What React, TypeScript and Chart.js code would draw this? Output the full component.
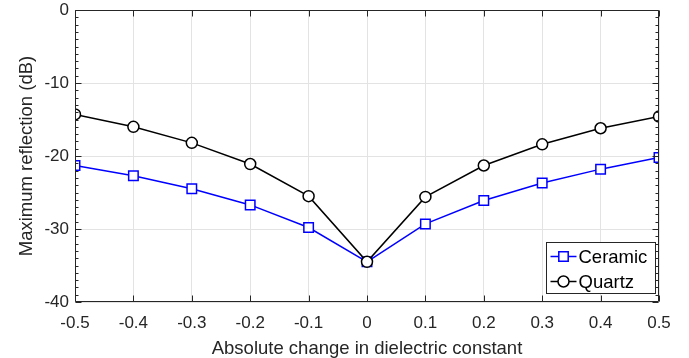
import React, { useEffect, useRef } from "react";
import { Chart, registerables } from "chart.js";

Chart.register(...registerables);

const xValues = [-0.5, -0.4, -0.3, -0.2, -0.1, 0, 0.1, 0.2, 0.3, 0.4, 0.5];
const ceramic = [-21.3, -22.7, -24.5, -26.7, -29.8, -34.5, -29.3, -26.1, -23.7, -21.8, -20.2];
const quartz = [-14.3, -16.0, -18.2, -21.1, -25.5, -34.5, -25.6, -21.3, -18.4, -16.2, -14.6];
const xTickLabels = ["-0.5", "-0.4", "-0.3", "-0.2", "-0.1", "0", "0.1", "0.2", "0.3", "0.4", "0.5"];
const yTickValues = [-40, -30, -20, -10, 0];
const yTickLabels = ["-40", "-30", "-20", "-10", "0"];
const seriesNames = ["Ceramic", "Quartz"];
const xTitle = "Absolute change in dielectric constant";
const yTitle = "Maximum reflection (dB)";

const FONT = "'Liberation Sans', Arial, Helvetica, sans-serif";
const AXIS = "#262626";
const GRID = "#e3e3e3";
const BLUE = "#0000ff";
const BLACK = "#000000";

const framePlugin = {
  id: "matlabFrame",
  afterDraw(chart: any) {
    const { ctx, chartArea } = chart;
    const xs = chart.scales.x;
    const ys = chart.scales.y;
    const L = Math.round(chartArea.left) + 0.5;
    const R = Math.round(chartArea.right) - 0.5;
    const T = Math.round(chartArea.top) + 0.5;
    const B = Math.round(chartArea.bottom) - 0.5;
    ctx.save();
    ctx.strokeStyle = AXIS;
    ctx.lineWidth = 1;
    ctx.beginPath();
    ctx.rect(L, T, R - L, B - T);
    ctx.stroke();
    // major ticks inward
    ctx.beginPath();
    xValues.forEach((v) => {
      const px = Math.round(xs.getPixelForValue(v)) + 0.5;
      ctx.moveTo(px, B);
      ctx.lineTo(px, B - 6);
      ctx.moveTo(px, T);
      ctx.lineTo(px, T + 6);
    });
    for (let v = -40; v <= 0; v += 1) {
      const py = Math.round(ys.getPixelForValue(v)) + 0.5;
      const len = v % 10 === 0 ? 6 : 3;
      ctx.moveTo(L, py);
      ctx.lineTo(L + len, py);
      ctx.moveTo(R, py);
      ctx.lineTo(R - len, py);
    }
    ctx.stroke();

    // legend
    const lx = 546.5, ly = 242.5, lw = 109, lh = 51;
    ctx.fillStyle = "#ffffff";
    ctx.fillRect(lx, ly, lw, lh);
    ctx.strokeStyle = AXIS;
    ctx.strokeRect(lx, ly, lw, lh);
    const rows = [
      { name: seriesNames[0], color: BLUE, style: "rect", y: ly + 14 },
      { name: seriesNames[1], color: BLACK, style: "circle", y: ly + 39 },
    ];
    rows.forEach((r) => {
      ctx.strokeStyle = r.color;
      ctx.lineWidth = 1.5;
      ctx.beginPath();
      ctx.moveTo(lx + 4, r.y);
      ctx.lineTo(lx + 30, r.y);
      ctx.stroke();
      ctx.fillStyle = "#ffffff";
      ctx.beginPath();
      const cx = lx + 17;
      if (r.style === "rect") {
        ctx.rect(cx - 4.7, r.y - 4.7, 9.4, 9.4);
      } else {
        ctx.arc(cx, r.y, 5.5, 0, Math.PI * 2);
      }
      ctx.fill();
      ctx.stroke();
      ctx.fillStyle = BLACK;
      ctx.font = `18.5px ${FONT}`;
      ctx.textBaseline = "middle";
      ctx.textAlign = "left";
      ctx.fillText(r.name, lx + 32, r.y + 1);
    });
    ctx.restore();
  },
};

export default function App() {
  const ref = useRef<HTMLCanvasElement | null>(null);
  useEffect(() => {
    if (!ref.current) return;
    const chart = new Chart(ref.current, {
      type: "line",
      data: {
        datasets: [
          {
            label: seriesNames[0],
            data: xValues.map((x, i) => ({ x, y: ceramic[i] })),
            borderColor: BLUE,
            backgroundColor: "#ffffff",
            borderWidth: 1.5,
            pointStyle: "rect",
            pointRadius: 6.7,
            pointBorderWidth: 1.5,
            pointBorderColor: BLUE,
            pointBackgroundColor: "#ffffff",
            order: 1,
          },
          {
            label: seriesNames[1],
            data: xValues.map((x, i) => ({ x, y: quartz[i] })),
            borderColor: BLACK,
            backgroundColor: "#ffffff",
            borderWidth: 1.5,
            pointStyle: "circle",
            pointRadius: 5.5,
            pointBorderWidth: 1.5,
            pointBorderColor: BLACK,
            pointBackgroundColor: "#ffffff",
            order: 0,
          },
        ],
      },
      options: {
        animation: false,
        responsive: false,
        events: [],
        layout: { padding: { left: 0, right: 30, top: 10, bottom: 0 } },
        plugins: { legend: { display: false }, tooltip: { enabled: false } },
        scales: {
          x: {
            type: "linear",
            min: -0.5,
            max: 0.5,
            afterBuildTicks: (s: any) => {
              s.ticks = xValues.map((v) => ({ value: v }));
            },
            afterFit: (s: any) => {
              s.height = 56;
              s.paddingLeft = 0;
              s.paddingRight = 0;
            },
            grid: { color: GRID, drawTicks: false, lineWidth: 1 },
            border: { display: false },
            ticks: {
              padding: 11,
              color: AXIS,
              font: { family: FONT, size: 17 },
              maxRotation: 0,
              autoSkip: false,
              callback: (_v: any, i: number) => xTickLabels[i],
            },
            title: {
              display: true,
              text: xTitle,
              color: AXIS,
              font: { family: FONT, size: 18.5, lineHeight: 1.0 },
              padding: { top: 0, bottom: 0 },
            },
          },
          y: {
            type: "linear",
            min: -40,
            max: 0,
            afterBuildTicks: (s: any) => {
              s.ticks = yTickValues.map((v) => ({ value: v }));
            },
            afterFit: (s: any) => {
              s.width = 75;
              s.paddingTop = 0;
              s.paddingBottom = 0;
            },
            grid: { color: GRID, drawTicks: false, lineWidth: 1 },
            border: { display: false },
            ticks: {
              padding: 6,
              color: AXIS,
              font: { family: FONT, size: 17 },
              autoSkip: false,
              callback: (_v: any, i: number) => yTickLabels[i],
            },
            title: {
              display: true,
              text: yTitle,
              color: AXIS,
              font: { family: FONT, size: 18.5 },
              padding: { top: 16, bottom: 0 },
            },
          },
        },
      },
      plugins: [framePlugin],
    });
    return () => chart.destroy();
  }, []);
  return (
    <div style={{ position: "absolute", left: 0, top: 0, width: 689, height: 358, background: "#ffffff" }}>
      <canvas ref={ref} width={689} height={358} style={{ display: "block" }} />
    </div>
  );
}
